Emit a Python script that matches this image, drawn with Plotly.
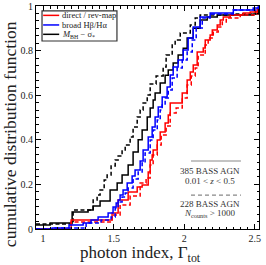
import plotly.graph_objects as go

# ---- data (step-function CDFs) ----
red_solid_x = [0.95, 1.199, 1.489, 1.532, 1.603, 1.667, 1.702, 1.745, 1.759, 1.773, 1.780, 1.809, 1.830, 1.865, 1.887, 1.901, 1.986, 2.021, 2.043, 2.064, 2.092, 2.135, 2.149, 2.184, 2.199, 2.234, 2.255, 2.277, 2.326, 2.418, 2.468, 2.518]
red_solid_y = [0.0, 0.040, 0.072, 0.130, 0.166, 0.188, 0.197, 0.256, 0.309, 0.332, 0.354, 0.399, 0.435, 0.475, 0.511, 0.565, 0.610, 0.668, 0.704, 0.735, 0.794, 0.812, 0.848, 0.870, 0.892, 0.915, 0.937, 0.951, 0.960, 0.969, 0.973, 0.991]

red_dash_x = [0.95, 1.199, 1.489, 1.546, 1.617, 1.688, 1.730, 1.759, 1.780, 1.809, 1.837, 1.872, 1.901, 1.943, 1.986, 2.021, 2.050, 2.078, 2.099, 2.149, 2.170, 2.206, 2.241, 2.270, 2.298, 2.397, 2.518]
red_dash_y = [0.0, 0.031, 0.063, 0.108, 0.148, 0.206, 0.229, 0.287, 0.332, 0.377, 0.422, 0.462, 0.520, 0.543, 0.587, 0.646, 0.686, 0.722, 0.780, 0.825, 0.857, 0.883, 0.906, 0.928, 0.946, 0.960, 0.982]

blue_solid_x = [0.95, 1.064, 1.184, 1.284, 1.340, 1.390, 1.461, 1.496, 1.518, 1.532, 1.546, 1.567, 1.596, 1.631, 1.652, 1.688, 1.709, 1.745, 1.773, 1.794, 1.816, 1.844, 1.879, 1.901, 1.922, 1.957, 1.993, 2.028, 2.064, 2.113, 2.184, 2.348, 2.489, 2.525]
blue_solid_y = [0.0, 0.004, 0.018, 0.027, 0.040, 0.054, 0.072, 0.099, 0.117, 0.130, 0.152, 0.175, 0.206, 0.238, 0.265, 0.305, 0.354, 0.413, 0.457, 0.502, 0.547, 0.592, 0.637, 0.691, 0.726, 0.758, 0.803, 0.857, 0.906, 0.951, 0.969, 0.982, 0.991, 1.0]

blue_dash_x = [0.95, 1.085, 1.305, 1.411, 1.482, 1.511, 1.532, 1.560, 1.582, 1.603, 1.638, 1.674, 1.702, 1.723, 1.759, 1.780, 1.809, 1.830, 1.844, 1.865, 1.887, 1.915, 1.950, 1.986, 2.021, 2.057, 2.085, 2.128, 2.184, 2.348, 2.525]
blue_dash_y = [0.0, 0.004, 0.027, 0.040, 0.054, 0.094, 0.121, 0.143, 0.161, 0.184, 0.224, 0.256, 0.296, 0.341, 0.399, 0.444, 0.489, 0.534, 0.556, 0.587, 0.623, 0.677, 0.722, 0.758, 0.794, 0.848, 0.901, 0.946, 0.964, 0.982, 0.996]

black_solid_x = [0.95, 1.05, 1.206, 1.319, 1.355, 1.404, 1.475, 1.525, 1.560, 1.603, 1.638, 1.674, 1.702, 1.738, 1.759, 1.780, 1.794, 1.830, 1.865, 1.887, 1.922, 1.957, 1.993, 2.021, 2.064, 2.113, 2.163, 2.234, 2.489, 2.525]
black_solid_y = [0.018, 0.027, 0.076, 0.085, 0.103, 0.126, 0.175, 0.206, 0.242, 0.287, 0.345, 0.400, 0.444, 0.502, 0.543, 0.578, 0.610, 0.655, 0.690, 0.713, 0.744, 0.780, 0.810, 0.857, 0.900, 0.937, 0.951, 0.960, 0.964, 0.991]

black_dash_x = [0.95, 1.213, 1.355, 1.383, 1.404, 1.433, 1.454, 1.482, 1.511, 1.532, 1.560, 1.582, 1.617, 1.638, 1.667, 1.688, 1.709, 1.738, 1.759, 1.801, 1.851, 1.872, 1.915, 1.936, 1.972, 2.043, 2.078, 2.113, 2.348, 2.504, 2.525]
black_dash_y = [0.022, 0.085, 0.130, 0.152, 0.175, 0.220, 0.242, 0.283, 0.309, 0.327, 0.354, 0.377, 0.413, 0.457, 0.502, 0.534, 0.565, 0.601, 0.650, 0.686, 0.726, 0.780, 0.825, 0.848, 0.879, 0.915, 0.946, 0.960, 0.964, 0.982, 0.991]

legend_labels = ["direct / rev-map", "broad H\u03b2/H\u03b1", "<i>M</i><sub>BH</sub> \u2212 \u03c3<sub>*</sub>"]
legend_colors = ["#ff0000", "#0000ff", "#000000"]
note_solid = ["385 BASS AGN", "0.01 &lt; <i>z</i> &lt; 0.5"]
note_dash = ["228 BASS AGN", "<i>N</i><sub>counts</sub> &gt; 1000"]

SERIF = "Liberation Serif"
DASH = "4px,2.5px"

fig = go.Figure()
series = [
    (black_dash_x, black_dash_y, "#000000", DASH),
    (black_solid_x, black_solid_y, "#000000", "solid"),
    (red_dash_x, red_dash_y, "#ff0000", DASH),
    (red_solid_x, red_solid_y, "#ff0000", "solid"),
    (blue_dash_x, blue_dash_y, "#0000ff", DASH),
    (blue_solid_x, blue_solid_y, "#0000ff", "solid"),
]
for xs, ys, col, dash in series:
    fig.add_trace(go.Scatter(x=xs, y=ys, mode="lines", line=dict(color=col, width=1.5, dash=dash, shape="hv"),
                             showlegend=False, hoverinfo="skip"))

axis_common = dict(showline=True, linecolor="black", linewidth=1, mirror="allticks", ticks="inside",
                   ticklen=5, tickwidth=1, tickcolor="black", showgrid=False, zeroline=False,
                   automargin=False, tickfont=dict(family=SERIF, size=10, color="#222222"))
fig.update_xaxes(range=[0.95, 2.53], tickvals=[1, 1.5, 2, 2.5], ticktext=["1", "1.5", "2", "2.5"],
                 minor=dict(ticks="inside", ticklen=2.5, dtick=0.05, tickcolor="black", showgrid=False),
                 **axis_common)
fig.update_yaxes(range=[0, 1], tickvals=[0, 0.2, 0.4, 0.6, 0.8, 1], ticktext=["0", "0.2", "0.4", "0.6", "0.8", "1"],
                 minor=dict(ticks="inside", ticklen=2.5, dtick=0.2 / 6, tickcolor="black", showgrid=False),
                 **axis_common)

shapes = []
annotations = []
# custom legend (paper coordinates)
shapes.append(dict(type="rect", xref="paper", yref="paper", x0=0.027, x1=0.363, y0=0.843, y1=0.978,
                   line=dict(color="#333333", width=1.2), fillcolor="white", layer="above"))
row_y = [0.958, 0.915, 0.873]
for lab, col, yy in zip(legend_labels, legend_colors, row_y):
    shapes.append(dict(type="line", xref="paper", yref="paper", x0=0.032, x1=0.104, y0=yy, y1=yy,
                       line=dict(color=col, width=1.5), layer="above"))
    annotations.append(dict(xref="paper", yref="paper", x=0.108, y=yy, text=lab, showarrow=False,
                            xanchor="left", yanchor="middle", font=dict(family=SERIF, size=8.5, color="#222222")))

# notes at bottom right
shapes.append(dict(type="line", xref="paper", yref="paper", x0=0.695, x1=0.919, y0=0.305, y1=0.305,
                   line=dict(color="#888888", width=1.2)))
shapes.append(dict(type="line", xref="paper", yref="paper", x0=0.695, x1=0.919, y0=0.152, y1=0.152,
                   line=dict(color="#888888", width=1.2, dash="4px,3px")))
for txt, yy in zip(note_solid + note_dash, [0.262, 0.217, 0.110, 0.068]):
    annotations.append(dict(xref="paper", yref="paper", x=0.780, y=yy, text=txt, showarrow=False,
                            xanchor="center", yanchor="middle", font=dict(family=SERIF, size=9, color="#333333")))

# axis titles
annotations.append(dict(xref="paper", yref="paper", x=-0.117, y=0.425, text="cumulative distribution function",
                        textangle=-90, showarrow=False, xanchor="center", yanchor="middle",
                        font=dict(family=SERIF, size=17.5, color="#222222")))
annotations.append(dict(xref="paper", yref="paper", x=0.47, y=-0.112, text="photon index, \u0393<sub>tot</sub>",
                        showarrow=False, xanchor="center", yanchor="middle",
                        font=dict(family=SERIF, size=17, color="#222222")))

fig.update_layout(width=266, height=265, margin=dict(l=36, r=7, t=6, b=36, autoexpand=False),
                  plot_bgcolor="white", paper_bgcolor="white", shapes=shapes, annotations=annotations,
                  showlegend=False)
fig.write_html("out.html", config={"displayModeBar": False, "staticPlot": True},
               post_script="document.body.style.margin='0px';document.body.style.overflow='hidden';")
